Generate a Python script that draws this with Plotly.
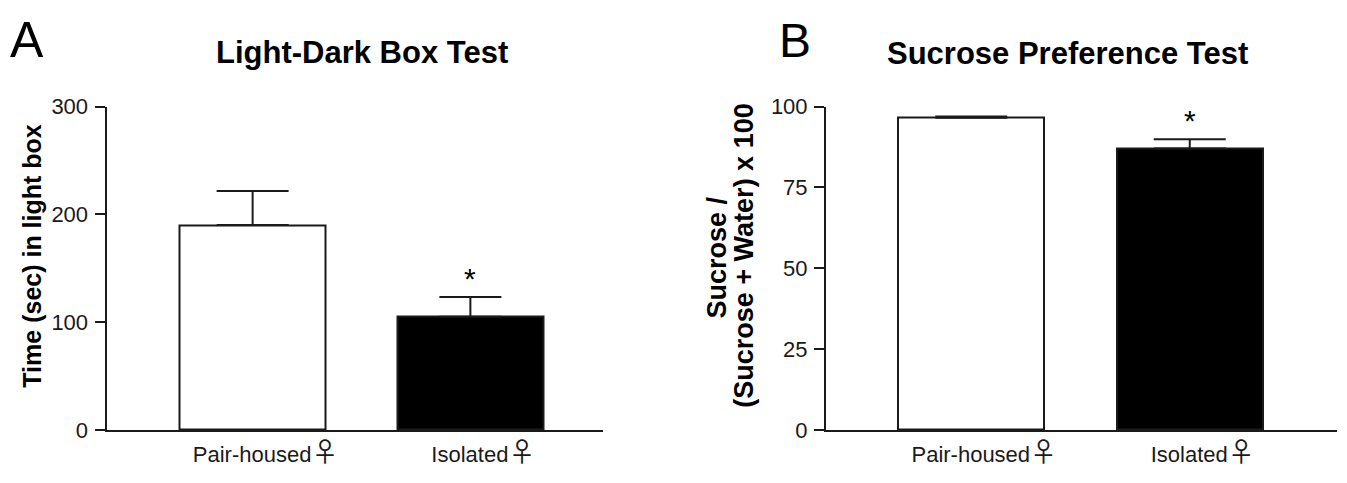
import plotly.graph_objects as go

# ---- data ----
groups = ["Pair-housed", "Isolated"]
female_sign = "♀"
light_box_time = [190, 105]      # Panel A mean (sec)
light_box_sem = [31.6, 18.2]     # Panel A SEM
sucrose_pref = [96.5, 87.0]      # Panel B mean (%)
sucrose_sem = [0.45, 2.9]        # Panel B SEM
bar_colors = ["white", "black"]
sig_marks = ["", "*"]
ld_ticks = [0, 100, 200, 300]
sp_ticks = [0, 25, 50, 75, 100]

W, H = 1347, 483
FONT = "Liberation Sans, Arial, Helvetica, sans-serif"
INK = "#1a1a1a"

def px_x(p):
    return p / W

def px_y(p):
    return 1 - p / H

tick_text = [
    f"{g}<span style='font-family:Noto Sans CJK JP;font-size:27px'>{female_sign}</span>"
    for g in groups
]
xpos = list(range(len(groups)))

fig = go.Figure()

panels = [
    dict(xa="x", ya="y", vals=light_box_time, errs=light_box_sem, caps=[36, 31]),
    dict(xa="x2", ya="y2", vals=sucrose_pref, errs=sucrose_sem, caps=[36, 36]),
]

for p in panels:
    for i, (v, e) in enumerate(zip(p["vals"], p["errs"])):
        fig.add_trace(go.Bar(
            x=[xpos[i]], y=[v], width=0.668,
            marker=dict(color=bar_colors[i], line=dict(color=INK, width=2)),
            error_y=dict(type="data", array=[e], arrayminus=[0], symmetric=False,
                         color=INK, thickness=2, width=p["caps"][i]),
            xaxis=p["xa"], yaxis=p["ya"], showlegend=False, hoverinfo="y",
        ))
        if sig_marks[i]:
            fig.add_annotation(x=xpos[i], y=v + e, xref=p["xa"], yref=p["ya"],
                               text=sig_marks[i], showarrow=False, yshift=19,
                               yanchor="middle",
                               font=dict(family=FONT, size=30, color="black"))

axis_common = dict(showline=True, linecolor=INK, linewidth=2, showgrid=False,
                   zeroline=False, tickfont=dict(family=FONT, size=22, color=INK))
xaxis_common = dict(tickvals=xpos, ticktext=tick_text, ticks="", ticklabelstandoff=4,
                    ticklabelshift=13, **axis_common)
yaxis_common = dict(ticks="outside", ticklen=10, tickwidth=2, tickcolor=INK,
                    ticklabelstandoff=2, **axis_common)

fig.update_layout(
    width=W, height=H,
    margin=dict(l=0, r=0, t=0, b=0),
    paper_bgcolor="white", plot_bgcolor="white",
    bargap=0,
    xaxis=dict(domain=[px_x(106.5), px_x(603)], range=[-0.671, 1.609], anchor="y",
               **xaxis_common),
    yaxis=dict(domain=[px_y(440.7), px_y(99.7)], range=[0, 300], tickvals=ld_ticks,
               anchor="x", **yaxis_common),
    xaxis2=dict(domain=[px_x(826), px_x(1337)], range=[-0.665, 1.674], anchor="y2",
                **xaxis_common),
    yaxis2=dict(domain=[px_y(440.7), px_y(99.7)], range=[0, 100], tickvals=sp_ticks,
                anchor="x2", **yaxis_common),
)

ann = [
    dict(x=27, y=30, text="A", size=50),
    dict(x=795, y=30, text="B", size=48),
    dict(x=362.5, y=43, text="<b>Light-Dark Box Test</b>", size=31),
    dict(x=1067, y=44, text="<b>Sucrose Preference Test</b>", size=31),
]
for a in ann:
    fig.add_annotation(x=px_x(a["x"]), y=px_y(a["y"]), xref="paper", yref="paper",
                       text=a["text"], showarrow=False, xanchor="center", yanchor="middle",
                       font=dict(family=FONT, size=a["size"], color="black"))

ylabels = [
    dict(x=32, y=257, text="<b>Time (sec) in light box</b>", size=25),
    dict(x=717, y=259, text="<b>Sucrose /</b>", size=27),
    dict(x=744, y=257, text="<b>(Sucrose + Water) x 100</b>", size=27),
]
for a in ylabels:
    fig.add_annotation(x=px_x(a["x"]), y=px_y(a["y"]), xref="paper", yref="paper",
                       text=a["text"], textangle=-90, showarrow=False,
                       xanchor="center", yanchor="middle",
                       font=dict(family=FONT, size=a["size"], color="black"))

fig.write_html("out.html", config={"displayModeBar": False},
               post_script="document.body.style.margin='0';")
